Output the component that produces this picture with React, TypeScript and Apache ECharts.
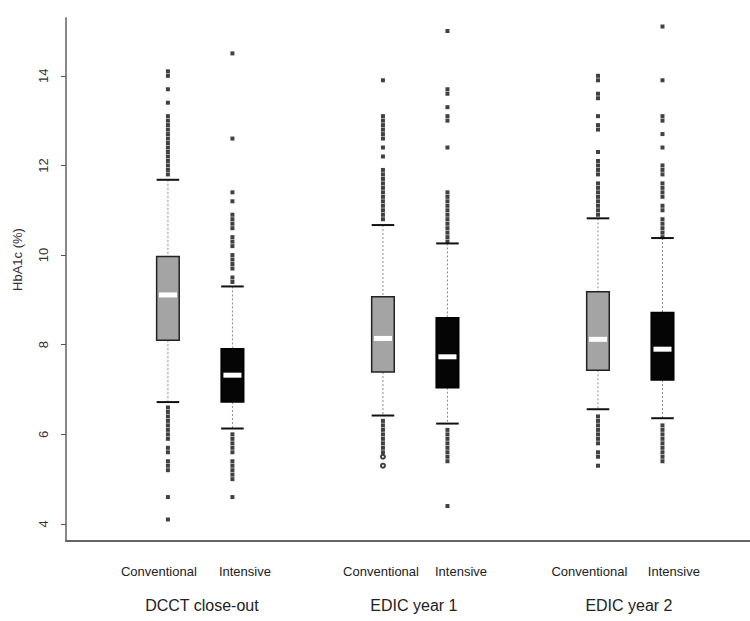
import React, { useEffect, useRef } from "react";
import * as echarts from "echarts";

// ---- data ----
const groupLabels = ["DCCT close-out", "EDIC year 1", "EDIC year 2"];
const groupLabelX = [1.58, 11.44, 21.44];
const treatmentLabels = ["Conventional", "Intensive", "Conventional", "Intensive", "Conventional", "Intensive"];
const treatmentLabelX = [-0.42, 3.58, 9.91, 13.63, 19.6, 23.53];
const boxX = [0, 3, 10, 13, 20, 23];
const boxKind = [0, 1, 0, 1, 0, 1]; // 0 = conventional (grey), 1 = intensive (black)
const whiskerLow = [6.72, 6.13, 6.42, 6.24, 6.56, 6.36];
const q1 = [8.1, 6.72, 7.39, 7.04, 7.43, 7.21];
const median = [9.11, 7.32, 8.14, 7.73, 8.12, 7.9];
const q3 = [9.97, 7.91, 9.07, 8.6, 9.18, 8.72];
const whiskerHigh = [11.68, 9.3, 10.67, 10.26, 10.82, 10.38];

const outliersDcctConv = [14.1, 14.0, 13.7, 13.4, 13.1, 13.0, 12.9, 12.8, 12.7, 12.6, 12.5, 12.4, 12.3, 12.2, 12.1, 12.0, 11.9, 11.8,
  6.6, 6.5, 6.4, 6.3, 6.2, 6.1, 6.0, 5.9, 5.7, 5.6, 5.4, 5.3, 5.2, 4.6, 4.1];
const outliersDcctInt = [14.5, 12.6, 11.4, 11.2, 10.9, 10.8, 10.7, 10.6, 10.4, 10.3, 10.2, 10.0, 9.9, 9.8, 9.7, 9.5, 9.4,
  6.0, 5.9, 5.8, 5.7, 5.6, 5.4, 5.3, 5.2, 5.1, 5.0, 4.6];
const outliersEdic1Conv = [13.9, 13.1, 13.0, 12.9, 12.8, 12.7, 12.6, 12.4, 12.2, 11.9, 11.8, 11.7, 11.6, 11.5, 11.4, 11.3, 11.2, 11.1, 11.0, 10.9, 10.8,
  6.3, 6.2, 6.1, 6.0, 5.9, 5.8, 5.7, 5.6];
const openEdic1Conv = [5.5, 5.3];
const outliersEdic1Int = [15.0, 13.7, 13.6, 13.3, 13.1, 13.0, 12.4, 11.4, 11.3, 11.2, 11.1, 11.0, 10.9, 10.8, 10.7, 10.6, 10.5, 10.4, 10.3,
  6.1, 6.0, 5.9, 5.8, 5.7, 5.6, 5.5, 5.4, 4.4];
const outliersEdic2Conv = [14.0, 13.9, 13.6, 13.5, 13.1, 12.9, 12.8, 12.3, 12.1, 12.0, 11.9, 11.8, 11.6, 11.5, 11.4, 11.3, 11.2, 11.1, 11.0, 10.9,
  6.4, 6.3, 6.2, 6.1, 6.0, 5.9, 5.8, 5.6, 5.5, 5.3];
const outliersEdic2Int = [15.1, 13.9, 13.1, 13.0, 12.7, 12.4, 12.0, 11.9, 11.8, 11.6, 11.5, 11.4, 11.3, 11.1, 11.0, 10.8, 10.7, 10.6, 10.5, 10.4,
  6.2, 6.1, 6.0, 5.9, 5.8, 5.7, 5.6, 5.5, 5.4];
const outlierLists = [outliersDcctConv, outliersDcctInt, outliersEdic1Conv, outliersEdic1Int, outliersEdic2Conv, outliersEdic2Int];

const yTicks = [4, 6, 8, 10, 12, 14];
const yMin = 3.62;
const yMax = 15.29;
const xMin = -4.74;
const xMax = 27.07;

const FONT = "Liberation Sans, Arial, Helvetica, sans-serif";

export default function App() {
  const ref = useRef<HTMLDivElement>(null);

  useEffect(() => {
    if (!ref.current) return;
    const chart = echarts.init(ref.current, undefined, { renderer: "svg" });

    const boxData = boxX.map((x, i) => [x, whiskerLow[i], q1[i], median[i], q3[i], whiskerHigh[i], boxKind[i]]);
    const outlierData: number[][] = [];
    outlierLists.forEach((list, i) => list.forEach((v) => outlierData.push([boxX[i], v])));
    const openData = openEdic1Conv.map((v) => [boxX[2], v]);

    const boxWidth = 1.05;

    chart.setOption({
      animation: false,
      backgroundColor: "#ffffff",
      grid: { left: 66, right: 0, top: 18, bottom: 80, containLabel: false },
      xAxis: [
        {
          type: "value",
          min: xMin,
          max: xMax,
          splitLine: { show: false },
          axisLine: { show: true, onZero: false, lineStyle: { color: "#666", width: 2 } },
          axisTick: { show: false },
          axisLabel: {
            customValues: treatmentLabelX,
            formatter: (v: number) => {
              const idx = treatmentLabelX.indexOf(v);
              return idx >= 0 ? treatmentLabels[idx] : "";
            },
            margin: 24,
            fontSize: 13,
            fontFamily: FONT,
            color: "#222",
          },
        },
        {
          type: "value",
          position: "bottom",
          min: xMin,
          max: xMax,
          splitLine: { show: false },
          axisLine: { show: false },
          axisTick: { show: false },
          axisLabel: {
            customValues: groupLabelX,
            formatter: (v: number) => {
              const idx = groupLabelX.indexOf(v);
              return idx >= 0 ? groupLabels[idx] : "";
            },
            margin: 56,
            fontSize: 16,
            fontFamily: FONT,
            color: "#222",
          },
        },
      ],
      yAxis: {
        type: "value",
        min: yMin,
        max: yMax,
        name: "HbA1c (%)",
        nameLocation: "middle",
        nameGap: 42,
        nameTextStyle: { fontSize: 13, fontFamily: FONT, color: "#333", padding: [0, 0, 0, 40] },
        splitLine: { show: false },
        axisLine: { show: true, onZero: false, lineStyle: { color: "#888", width: 2 } },
        axisTick: { show: true, customValues: yTicks, length: 5, lineStyle: { color: "#555", width: 1 } },
        axisLabel: {
          customValues: yTicks,
          rotate: 90,
          margin: 16,
          fontSize: 13,
          fontFamily: FONT,
          color: "#333",
        },
      },
      series: [
        {
          type: "custom",
          xAxisIndex: 0,
          data: boxData,
          encode: { x: 0, y: [1, 2, 3, 4, 5] },
          renderItem: (params: any, api: any) => {
            const x = api.value(0);
            const pLo = api.coord([x, api.value(1)]);
            const pQ1 = api.coord([x, api.value(2)]);
            const pMed = api.coord([x, api.value(3)]);
            const pQ3 = api.coord([x, api.value(4)]);
            const pHi = api.coord([x, api.value(5)]);
            const kind = api.value(6);
            const w = api.size([boxWidth, 0])[0];
            const cx = pMed[0];
            const dash = { stroke: "#8a8a8a", lineWidth: 1, lineDash: [2, 2] };
            const cap = { stroke: "#111", lineWidth: 2 };
            return {
              type: "group",
              children: [
                { type: "line", shape: { x1: cx, y1: pHi[1], x2: cx, y2: pQ3[1] }, style: dash },
                { type: "line", shape: { x1: cx, y1: pQ1[1], x2: cx, y2: pLo[1] }, style: dash },
                { type: "line", shape: { x1: cx - w / 2, y1: pHi[1], x2: cx + w / 2, y2: pHi[1] }, style: cap },
                { type: "line", shape: { x1: cx - w / 2, y1: pLo[1], x2: cx + w / 2, y2: pLo[1] }, style: cap },
                {
                  type: "rect",
                  shape: { x: cx - w / 2, y: pQ3[1], width: w, height: pQ1[1] - pQ3[1] },
                  style: kind === 0
                    ? { fill: "#a4a4a4", stroke: "#222", lineWidth: 1.5 }
                    : { fill: "#050505", stroke: "#000", lineWidth: 1.5 },
                },
                {
                  type: "rect",
                  shape: { x: cx - w * 0.4, y: pMed[1] - 2.5, width: w * 0.8, height: 5 },
                  style: { fill: "#ffffff" },
                },
              ],
            };
          },
          z: 2,
        },
        {
          type: "scatter",
          xAxisIndex: 0,
          data: outlierData,
          symbol: "rect",
          symbolSize: 4,
          itemStyle: { color: "#111" },
          z: 3,
        },
        {
          type: "scatter",
          xAxisIndex: 0,
          data: openData,
          symbol: "emptyCircle",
          symbolSize: 4,
          itemStyle: { color: "#111", borderColor: "#111", borderWidth: 1 },
          z: 3,
        },
      ],
    });

    return () => chart.dispose();
  }, []);

  return (
    <div
      ref={ref}
      style={{ position: "fixed", left: 0, top: 0, width: 750, height: 621, background: "#fff" }}
    />
  );
}
